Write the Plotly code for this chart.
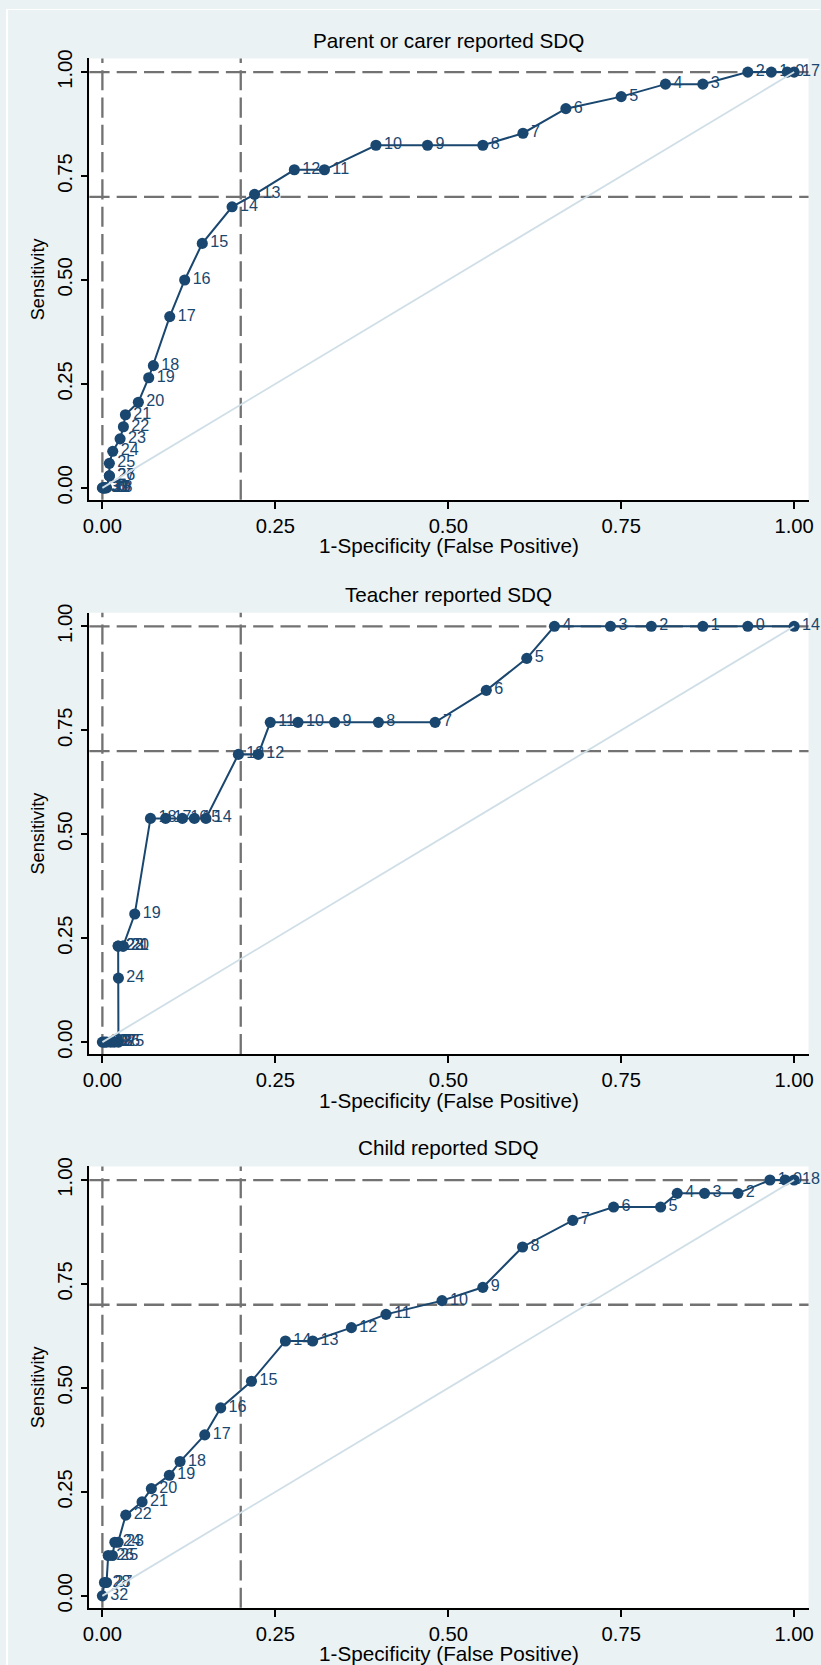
import plotly.graph_objects as go

# ---------------- data ----------------
panel_titles = ["Parent or carer reported SDQ", "Teacher reported SDQ", "Child reported SDQ"]

parent_fpr = [1.0, 0.99, 0.967, 0.933, 0.868, 0.814, 0.750, 0.670, 0.608, 0.550, 0.470, 0.3955,
              0.321, 0.2775, 0.220, 0.1875, 0.1444, 0.119, 0.0974, 0.0737, 0.067, 0.052, 0.0333,
              0.0304, 0.0256, 0.015, 0.0101, 0.0101, 0.0101, 0.006, 0.004, 0.003, 0.002, 0.001, 0.0]
parent_sens = [1.0, 1.0, 1.0, 1.0, 0.971, 0.971, 0.941, 0.912, 0.853, 0.824, 0.824, 0.824,
               0.765, 0.765, 0.706, 0.676, 0.588, 0.500, 0.412, 0.294, 0.265, 0.206, 0.176,
               0.147, 0.118, 0.088, 0.059, 0.029, 0.029, 0.0, 0.0, 0.0, 0.0, 0.0, 0.0]
parent_lbl = ["17", "0", "1", "2", "3", "4", "5", "6", "7", "8", "9", "10", "11", "12", "13", "14",
              "15", "16", "17", "18", "19", "20", "21", "22", "23", "24", "25", "26", "27", "28",
              "29", "30", "31", "32", "33"]

teacher_fpr = [1.0, 0.933, 0.868, 0.7935, 0.7345, 0.6535, 0.6135, 0.555, 0.481, 0.399, 0.3357,
               0.2828, 0.2427, 0.2253, 0.1966, 0.1497, 0.133, 0.1156, 0.0914, 0.0695, 0.0468,
               0.030, 0.030, 0.0228, 0.0228, 0.0232, 0.0232, 0.017, 0.012, 0.006, 0.003, 0.0]
teacher_sens = [1.0, 1.0, 1.0, 1.0, 1.0, 1.0, 0.923, 0.846, 0.769, 0.769, 0.769,
                0.769, 0.769, 0.692, 0.692, 0.538, 0.538, 0.538, 0.538, 0.538, 0.308,
                0.231, 0.231, 0.231, 0.231, 0.154, 0.0, 0.0, 0.0, 0.0, 0.0, 0.0]
teacher_lbl = ["14", "0", "1", "2", "3", "4", "5", "6", "7", "8", "9", "10", "11", "12", "13", "14",
               "15", "16", "17", "18", "19", "20", "21", "22", "23", "24", "25", "26", "27", "28",
               "29", "30"]

child_fpr = [1.0, 0.987, 0.965, 0.9187, 0.8705, 0.831, 0.807, 0.739, 0.680, 0.6074, 0.550, 0.491,
             0.410, 0.360, 0.304, 0.2646, 0.2155, 0.171, 0.148, 0.1123, 0.0968, 0.0708, 0.0574,
             0.0338, 0.0227, 0.018, 0.0145, 0.0084, 0.006, 0.003, 0.0]
child_sens = [1.0, 1.0, 1.0, 0.968, 0.968, 0.968, 0.935, 0.935, 0.903, 0.839, 0.742, 0.710,
              0.677, 0.645, 0.613, 0.613, 0.516, 0.452, 0.387, 0.323, 0.290, 0.258, 0.226,
              0.194, 0.129, 0.129, 0.097, 0.097, 0.032, 0.032, 0.0]
child_lbl = ["18", "0", "1", "2", "3", "4", "5", "6", "7", "8", "9", "10", "11", "12", "13", "14",
             "15", "16", "17", "18", "19", "20", "21", "22", "23", "24", "25", "26", "27", "28",
             "32"]

ref_x = [0, 1]
ref_y = [0, 1]
tick_vals = [0, 0.25, 0.5, 0.75, 1.0]
tick_text = ["0.00", "0.25", "0.50", "0.75", "1.00"]
cut_fpr = [0.0, 0.2]
cut_sens = [1.0, 0.7]

# ---------------- geometry ----------------
# Target positions are in final-picture pixels; the page shows the figure after
# an 8px body margin and slightly reduced, which is compensated here.
OFF = 8
KX = 1 / 0.987
KY = 1 / 0.993
KS = (KX + KY) / 2

def fx_px(t):          # picture px -> figure px (horizontal)
    return KX * t - OFF

def fy_px(t):          # picture px -> figure px (vertical)
    return KY * t - OFF

def sz(v):             # picture size -> figure size
    return KS * v

W, H = round(fx_px(821) + 1), round(fy_px(1665) + 1)
FONT = "Liberation Sans, Arial, Helvetica, sans-serif"
NAVY = "#1a476f"
BG = "#eaf2f3"
DASH = dict(color="#727272", width=sz(2.3), dash=f"{sz(20):.1f}px,{sz(7):.1f}px")
PLOT_LEFT, PLOT_RIGHT = fx_px(91.3), fx_px(810.7)
TOPS_T = [57.5, 612.5, 1167.0]
PLOT_H_T = 442.0

def py(px):
    return 1 - px / H

fig = go.Figure()

series = [(parent_fpr, parent_sens, parent_lbl),
          (teacher_fpr, teacher_sens, teacher_lbl),
          (child_fpr, child_sens, child_lbl)]

annotations = []
shapes = []
for i, (fx, sy, lb) in enumerate(series):
    s = "" if i == 0 else str(i + 1)
    xa, ya = "x" + s, "y" + s
    top_t = TOPS_T[i]
    fig.add_trace(go.Scatter(
        x=fx, y=sy, text=lb, mode="lines+markers+text", xaxis=xa, yaxis=ya,
        line=dict(color=NAVY, width=sz(2)), marker=dict(color=NAVY, size=sz(11)),
        textposition="middle right", textfont=dict(family=FONT, size=sz(16), color=NAVY),
        cliponaxis=False, showlegend=False, hoverinfo="skip"))
    fig.add_trace(go.Scatter(
        x=ref_x, y=ref_y, mode="lines", xaxis=xa, yaxis=ya,
        line=dict(color="#d0dfe7", width=sz(1.8)), cliponaxis=False,
        showlegend=False, hoverinfo="skip"))

    dom_y = [py(fy_px(top_t + PLOT_H_T)), py(fy_px(top_t))]
    axis_common = dict(showgrid=False, zeroline=False, showline=True, linecolor="black",
                       linewidth=sz(1.5), ticks="outside", ticklen=sz(7), tickwidth=sz(1.5),
                       tickcolor="black", tickvals=tick_vals, ticktext=tick_text,
                       ticklabeloverflow="allow",
                       tickfont=dict(family=FONT, size=sz(20), color="black"))
    fig.layout["xaxis" + s] = dict(domain=[PLOT_LEFT / W, PLOT_RIGHT / W],
                                   range=[-0.0188, 1.0208], anchor=ya, **axis_common)
    fig.layout["yaxis" + s] = dict(domain=dom_y, range=[-0.0288, 1.0327], anchor=xa,
                                   tickangle=-90, **axis_common)

    for v in cut_fpr:
        shapes.append(dict(type="line", xref=xa, x0=v, x1=v, yref=ya + " domain", y0=0, y1=1,
                           line=DASH, layer="below"))
    for v in cut_sens:
        shapes.append(dict(type="line", yref=ya, y0=v, y1=v, xref=xa + " domain", x0=0, x1=1,
                           line=DASH, layer="below"))

    annotations.append(dict(text=panel_titles[i], xref="paper", yref="paper",
                            x=(PLOT_LEFT + PLOT_RIGHT) / 2 / W, y=py(fy_px(top_t - 18.5)),
                            xanchor="center", yanchor="middle", showarrow=False,
                            font=dict(family=FONT, size=sz(20.5), color="black")))
    annotations.append(dict(text="1-Specificity (False Positive)", xref="paper", yref="paper",
                            x=(PLOT_LEFT + PLOT_RIGHT) / 2 / W, y=py(fy_px(top_t + 488)),
                            xanchor="center", yanchor="middle", showarrow=False,
                            font=dict(family=FONT, size=sz(20.5), color="black")))
    annotations.append(dict(text="Sensitivity", xref="paper", yref="paper",
                            x=fx_px(40) / W, y=py(fy_px(top_t + 221)), textangle=-90,
                            xanchor="center", yanchor="middle", showarrow=False,
                            font=dict(family=FONT, size=sz(18), color="black")))

# white border strips (left and top)
shapes.append(dict(type="rect", xref="paper", yref="paper", x0=0, x1=fx_px(10) / W, y0=0, y1=1,
                   fillcolor="white", line=dict(width=0), layer="below"))
shapes.append(dict(type="rect", xref="paper", yref="paper", x0=0, x1=1, y0=py(fy_px(9)), y1=1,
                   fillcolor="white", line=dict(width=0), layer="below"))

fig.update_layout(width=W, height=H, autosize=False,
                  margin=dict(l=0, r=0, t=0, b=0, pad=0),
                  paper_bgcolor=BG, plot_bgcolor="white",
                  shapes=shapes, annotations=annotations,
                  font=dict(family=FONT))

fig.write_html("out.html")
